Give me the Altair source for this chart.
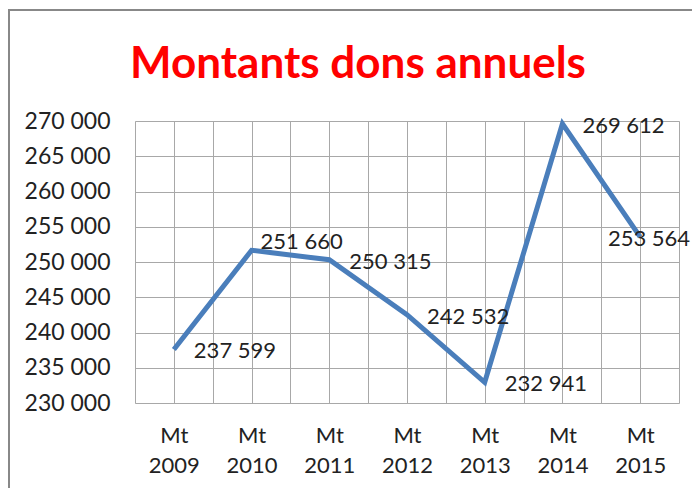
import json
import altair as alt
import pandas as pd

years = ["2009", "2010", "2011", "2012", "2013", "2014", "2015"]
values = [237599, 251660, 250315, 242532, 232941, 269612, 253564]
y_ticks = [230000, 235000, 240000, 245000, 250000, 255000, 260000, 265000, 270000]
title_text = "Montants dons annuels"

df = pd.DataFrame({"idx": list(range(len(years))), "year": years, "v": values})

n = len(years)
x_grid = [i * 0.5 - 0.5 for i in range(2 * n + 1)]
years_js = json.dumps(years)
FONT = "Lato"
GRID = "#a8a8a8"
TXT = "#222222"

x_enc = alt.X(
    "idx:Q",
    scale=alt.Scale(domain=[-0.5, n - 0.5], nice=False, zero=False),
    axis=alt.Axis(
        values=x_grid,
        labelExpr=f"datum.value % 1 === 0 ? ['Mt', {years_js}[datum.value]] : ''",
        title=None,
        grid=True,
        gridColor=GRID,
        gridOpacity=1,
        ticks=False,
        domain=False,
        labelFont=FONT,
        labelFontSize=22,
        labelColor=TXT,
        labelPadding=22,
        labelLineHeight=30,
        labelBaseline="top",
        labelFlush=False,
        labelOverlap=False,
    ),
)
y_enc = alt.Y(
    "v:Q",
    scale=alt.Scale(domain=[230000, 270000], nice=False, zero=False),
    axis=alt.Axis(
        values=y_ticks,
        labelExpr="replace(format(datum.value, ',d'), ',', ' ')",
        title=None,
        grid=True,
        gridColor=GRID,
        gridOpacity=1,
        ticks=False,
        domain=False,
        labelFont=FONT,
        labelFontSize=23,
        labelColor=TXT,
        labelPadding=25,
    ),
)

base = alt.Chart(df).encode(x=x_enc, y=y_enc)

line = base.mark_line(color="#4a7ebb", strokeWidth=5)

lab = base.transform_calculate(lbl="replace(format(datum.v, ',d'), ',', ' ')")
text_kw = dict(baseline="middle", font=FONT, fontSize=22, color=TXT)
labels_main = lab.transform_filter("datum.idx != 1 && datum.idx != 6").mark_text(
    align="left", dx=20, dy=2, **text_kw
).encode(text="lbl:N")
labels_2010 = lab.transform_filter("datum.idx == 1").mark_text(
    align="left", dx=9, dy=-8, **text_kw
).encode(text="lbl:N")
labels_last = lab.transform_filter("datum.idx == 6").mark_text(
    align="right", dx=50, dy=2, **text_kw
).encode(text="lbl:N")

frame = alt.Chart(df).mark_rect(fill=None, stroke="#888888", strokeWidth=2).encode(
    x=alt.value(-126), x2=alt.value(600), y=alt.value(-111), y2=alt.value(400)
)

title = alt.Chart(pd.DataFrame({"t": [title_text]})).mark_text(
    font=FONT, fontSize=44, fontWeight="bold", color="#ff0000",
    align="center", baseline="alphabetic",
).encode(text="t:N", x=alt.value(223), y=alt.value(-43))

chart = alt.layer(line, labels_main, labels_2010, labels_last, frame, title).properties(
    width=544,
    height=282,
    autosize=alt.AutoSizeParams(type="none"),
    padding={"left": 127, "top": 113, "right": 13, "bottom": 85},
).configure_view(stroke=GRID, strokeWidth=1).configure(background="white")

chart.save("out.html", embed_options={"renderer": "svg", "actions": False})
